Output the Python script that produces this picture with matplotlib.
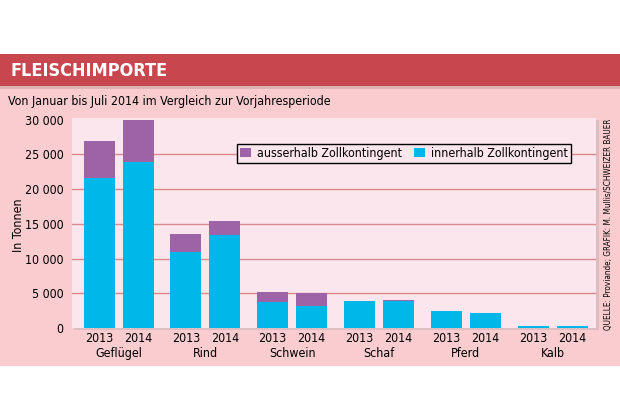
import matplotlib
matplotlib.use("Agg")
import matplotlib.pyplot as plt
from matplotlib import font_manager
from matplotlib.patches import Rectangle, Patch
import numpy as np

categories = ["Geflügel", "Rind", "Schwein", "Schaf", "Pferd", "Kalb"]
years = ["2013", "2014"]
innerhalb_2013 = [21650, 10990, 3780, 3920, 2440, 280]
total_2013 = [26880, 13580, 5215, 3920, 2440, 280]
innerhalb_2014 = [23950, 13440, 3110, 3830, 2200, 280]
total_2014 = [29900, 15410, 5070, 3970, 2200, 280]
yticks = [0, 5000, 10000, 15000, 20000, 25000, 30000]
ytick_labels = ["0", "5 000", "10 000", "15 000", "20 000", "25 000", "30 000"]

# pick a narrow font if one is installed
narrow = None
for f in font_manager.fontManager.ttflist:
    tag = (f.name + " " + f.fname).lower()
    if ("narrow" in tag or "condensed" in tag) and f.style == "normal":
        if narrow is None or "liberation" in tag:
            narrow = f
if narrow is not None:
    plt.rcParams['font.family'] = [narrow.name, 'Liberation Sans', 'DejaVu Sans']
    plt.rcParams['font.stretch'] = narrow.stretch
    k = 1.0
else:
    plt.rcParams['font.family'] = ['Liberation Sans', 'DejaVu Sans']
    k = 0.9
FS = 8.9 * k

W, H = 620, 420
fig = plt.figure(figsize=(W / 100, H / 100), dpi=100)
fig.patch.set_facecolor("white")

def fr(x0, y0, x1, y1, color, z=0, alpha=1.0):
    fig.patches.append(Rectangle((x0 / W, 1 - y1 / H), (x1 - x0) / W, (y1 - y0) / H,
                                 transform=fig.transFigure, facecolor=color,
                                 edgecolor="none", zorder=z, alpha=alpha))

fr(0, 86, W, 366, "#f9cdd0", z=0)
fr(0, 86, W, 89, "#c9a4a6", z=0, alpha=0.6)
fr(0, 54, W, 86, "#c8474f", z=1)
fr(74, 120, 599, 330, "#d8b9bc", z=1, alpha=0.8)

fig.text(10 / W, 1 - 71 / H, "FLEISCHIMPORTE", color="white", fontsize=13 * k,
         fontweight="bold", va="center", ha="left")
fig.text(8 / W, 1 - 101 / H, "Von Januar bis Juli 2014 im Vergleich zur Vorjahresperiode",
         color="black", fontsize=FS, va="center", ha="left")

ax_l, ax_r, ax_t, ax_b = 72, 596, 118, 328
ax = fig.add_axes([ax_l / W, 1 - ax_b / H, (ax_r - ax_l) / W, (ax_b - ax_t) / H])
ax.set_facecolor("#fce6ee")
ax.set_zorder(2)

x = np.arange(len(categories))
off = 0.225
bw = 0.357
purple = "#9e62a6"
cyan = "#00b7e9"

ax.bar(x - off, innerhalb_2013, bw, color=cyan, zorder=3)
ax.bar(x - off, np.array(total_2013) - np.array(innerhalb_2013), bw,
       bottom=innerhalb_2013, color=purple, zorder=3)
ax.bar(x + off, innerhalb_2014, bw, color=cyan, zorder=3)
ax.bar(x + off, np.array(total_2014) - np.array(innerhalb_2014), bw,
       bottom=innerhalb_2014, color=purple, zorder=3)

ax.set_xlim(-0.537, 5.5)
ax.set_ylim(0, 30250)
for s in ax.spines.values():
    s.set_visible(False)
for yv in yticks[1:-1]:
    ax.axhline(yv, color="#d98a8e", lw=1.0, zorder=1)

ax.set_yticks(yticks)
ax.set_yticklabels(ytick_labels, fontsize=FS)
ax.tick_params(axis="y", length=0, pad=6)

xpos = np.concatenate([x - off, x + off])
xlab = [years[0]] * len(x) + [years[1]] * len(x)
ax.set_xticks(xpos)
ax.set_xticklabels(xlab, fontsize=FS)
ax.tick_params(axis="x", length=0, pad=3)

for xi, c in zip(x, categories):
    ax.text(xi, -0.09, c, transform=ax.get_xaxis_transform(), ha="center",
            va="top", fontsize=FS)

fig.text(18 / W, 1 - 225 / H, "In Tonnen", rotation=90, fontsize=FS,
         va="center", ha="center")

handles = [Patch(facecolor=purple, edgecolor="none", label="ausserhalb Zollkontingent"),
           Patch(facecolor=cyan, edgecolor="none", label="innerhalb Zollkontingent")]
leg = ax.legend(handles=handles, ncol=2, loc="center right",
                bbox_to_anchor=(0.952, 0.831), frameon=True, fancybox=False,
                edgecolor="black", facecolor="#fce6ee", framealpha=1,
                fontsize=FS, handlelength=0.9, handleheight=0.7,
                handletextpad=0.5, columnspacing=0.9, borderpad=0.25,
                borderaxespad=0)
leg.get_frame().set_linewidth(1.0)
leg.set_zorder(5)

fig.text(608 / W, 1 - 330 / H, "QUELLE: Proviande; GRAFIK: M. Mullis/SCHWEIZER BAUER",
         rotation=90, fontsize=5.9 * k, va="bottom", ha="center")

fig.savefig("out.png", dpi=100, facecolor=fig.get_facecolor())
